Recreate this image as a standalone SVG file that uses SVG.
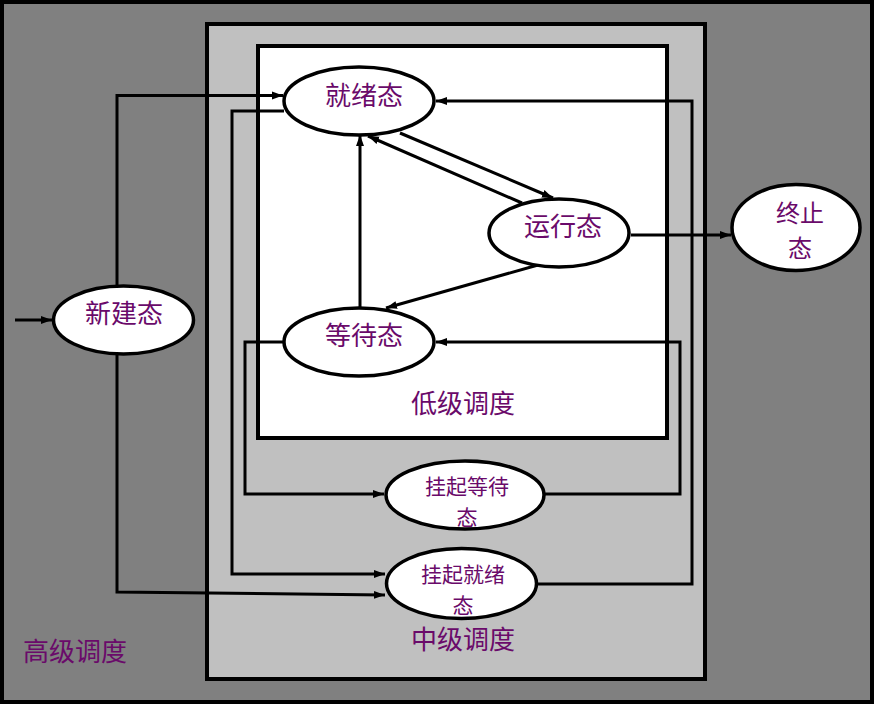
<svg xmlns="http://www.w3.org/2000/svg" width="874" height="704" viewBox="0 0 874 704">
<style>
.node{fill:#ffffff;stroke:#000;stroke-width:3.5}
.lbl{font-family:"Noto Sans CJK SC","Noto Sans CJK TC",sans-serif;fill:#6a0a6a;text-anchor:middle}
.big{font-size:26px}
.mid{font-size:24px}
.sm{font-size:21px}
.conn{fill:none;stroke:#000;stroke-width:3}
</style>
<defs>
<marker id="arr" markerUnits="userSpaceOnUse" markerWidth="12" markerHeight="10" refX="11" refY="5" orient="auto">
<path d="M0,1 L11,5 L0,9 Z" fill="#000"/>
</marker>
</defs>
<g id="background">
<rect x="2" y="2" width="870" height="700" fill="#808080" stroke="#000" stroke-width="4"/>
<rect x="207" y="24" width="498" height="655" fill="#c0c0c0" stroke="#000" stroke-width="4"/>
<rect x="258" y="46" width="409" height="392" fill="#ffffff" stroke="#000" stroke-width="4"/>
<text class="lbl big" x="463" y="413">低级调度</text>
<text class="lbl big" x="463" y="649">中级调度</text>
<text class="lbl big" x="75" y="661">高级调度</text>
</g>
<g id="connectors">
<line class="conn" x1="15" y1="320" x2="52" y2="320" marker-end="url(#arr)"/>
<polyline class="conn" points="117,286 117,95.5 283,95.5" marker-end="url(#arr)"/>
<polyline class="conn" points="117,355 117,592 385,595" marker-end="url(#arr)"/>
<polyline class="conn" points="284,111 232,111 232,574 385,574" marker-end="url(#arr)"/>
<polyline class="conn" points="284,342 245,342 245,494 384,494" marker-end="url(#arr)"/>
<polyline class="conn" points="545,494 680,494 680,342 436,342" marker-end="url(#arr)"/>
<polyline class="conn" points="538,584 692,584 692,101 436,101" marker-end="url(#arr)"/>
<line class="conn" x1="631" y1="235" x2="731" y2="235" marker-end="url(#arr)"/>
<line class="conn" x1="400" y1="133" x2="553" y2="198" marker-end="url(#arr)"/>
<line class="conn" x1="522" y1="203" x2="368" y2="136" marker-end="url(#arr)"/>
<line class="conn" x1="538" y1="265" x2="386" y2="308" marker-end="url(#arr)"/>
<line class="conn" x1="360" y1="307" x2="360" y2="135" marker-end="url(#arr)"/>
</g>
<g id="n-ready">
<ellipse class="node" cx="359" cy="101" rx="75" ry="34"/>
<text class="lbl big" x="364" y="105">就绪态</text>
</g>
<g id="n-new">
<ellipse class="node" cx="123.5" cy="320" rx="70" ry="34"/>
<text class="lbl big" x="124" y="323">新建态</text>
</g>
<g id="n-wait">
<ellipse class="node" cx="359" cy="342" rx="75" ry="34"/>
<text class="lbl big" x="364" y="345">等待态</text>
</g>
<g id="n-run">
<ellipse class="node" cx="559" cy="233" rx="70" ry="34"/>
<text class="lbl big" x="563" y="236">运行态</text>
</g>
<g id="n-exit">
<ellipse class="node" cx="796" cy="227.5" rx="64" ry="43"/>
<text class="lbl mid" x="800" y="222">终止</text>
<text class="lbl mid" x="800" y="257">态</text>
</g>
<g id="n-suspwait">
<ellipse class="node" cx="465" cy="495" rx="79" ry="34"/>
<text class="lbl sm" x="467" y="494">挂起等待</text>
<text class="lbl sm" x="467" y="525">态</text>
</g>
<g id="n-suspready">
<ellipse class="node" cx="461.5" cy="583.5" rx="75" ry="35"/>
<text class="lbl sm" x="463" y="582">挂起就绪</text>
<text class="lbl sm" x="463" y="613">态</text>
</g>
</svg>
